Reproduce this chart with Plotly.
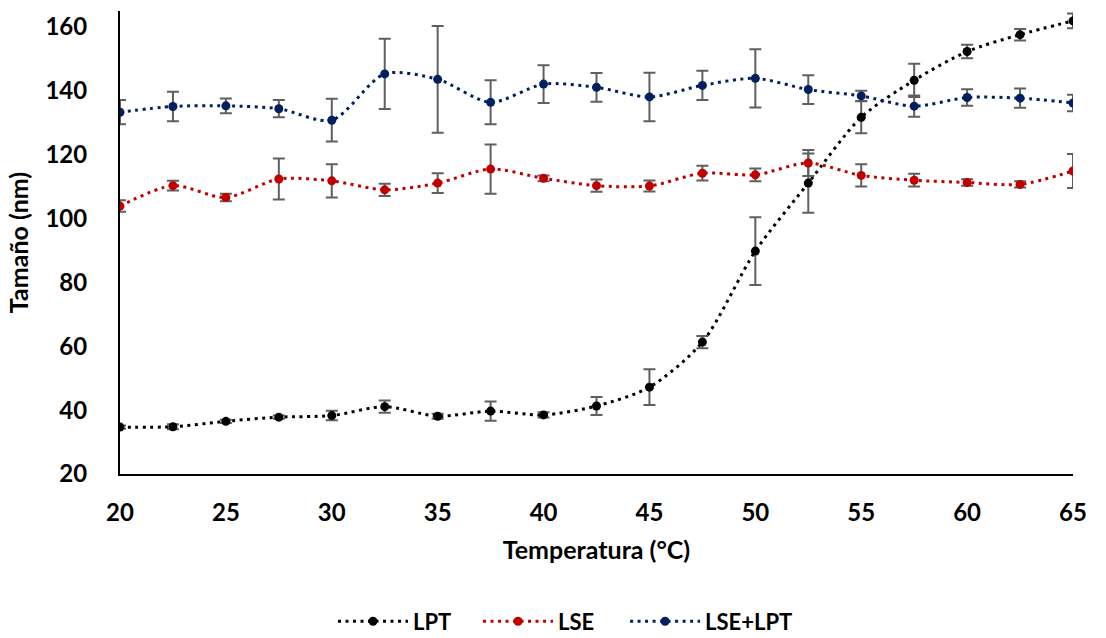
import plotly.graph_objects as go

# Temperature steps (°C)
temperatura = [20, 22.5, 25, 27.5, 30, 32.5, 35, 37.5, 40, 42.5, 45,
               47.5, 50, 52.5, 55, 57.5, 60, 62.5, 65]

# Mean size (nm) and standard deviation for each formulation
lpt = [34.7, 34.8, 36.5, 37.8, 38.3, 41.1, 38.1, 39.7, 38.5, 41.3, 47.2,
       61.3, 89.8, 111.1, 131.7, 143.3, 152.3, 157.6, 161.9]
lpt_err = [0.5, 0.8, 0.5, 0.5, 1.5, 1.9, 0.8, 3.0, 0.8, 2.8, 5.6,
           1.9, 10.6, 9.3, 5.0, 5.2, 2.1, 1.8, 2.3]

lse = [103.9, 110.3, 106.6, 112.4, 111.8, 109.0, 111.1, 115.5, 112.6, 110.3, 110.2,
       114.2, 113.7, 117.4, 113.5, 112.0, 111.3, 110.7, 114.9]
lse_err = [1.8, 1.5, 1.2, 6.4, 5.2, 1.9, 3.1, 7.7, 0.9, 1.9, 1.7,
           2.3, 2.0, 4.1, 3.5, 2.0, 1.0, 1.0, 5.3]

lse_lpt = [133.3, 135.1, 135.3, 134.4, 130.8, 145.3, 143.6, 136.4, 142.1, 141.1, 138.1,
           141.7, 143.9, 140.4, 138.4, 135.2, 137.9, 137.7, 136.2]
lse_lpt_err = [3.8, 4.6, 2.3, 2.7, 6.7, 11.0, 16.7, 6.9, 5.9, 4.5, 7.6,
               4.6, 9.1, 4.5, 1.6, 3.3, 2.6, 3.0, 2.6]

x_ticks = [20, 25, 30, 35, 40, 45, 50, 55, 60, 65]
y_ticks = [20, 40, 60, 80, 100, 120, 140, 160]

series = [
    ("LPT", lpt, lpt_err, "#000000", "legend"),
    ("LSE", lse, lse_err, "#c00000", "legend2"),
    ("LSE+LPT", lse_lpt, lse_lpt_err, "#002060", "legend3"),
]

FONT = "Lato"

fig = go.Figure()
for name, vals, errs, color, leg in series:
    fig.add_trace(go.Scatter(
        x=temperatura, y=vals, name=name, legend=leg,
        mode="lines+markers",
        line=dict(color=color, width=3, dash="3px,4.5px", shape="spline", smoothing=0.8),
        marker=dict(color=color, size=9),
        error_y=dict(type="data", array=errs, visible=True,
                     color="#5f5f5f", thickness=2, width=6),
    ))


def legend_at(x_left):
    # one single-entry legend per series, placed side by side under the axis title
    return dict(orientation="h", x=x_left, xanchor="left",
                yref="container", y=0.026, yanchor="middle",
                font=dict(family=FONT, size=22, weight=700), itemwidth=70)


fig.update_layout(
    width=1106, height=638,
    margin=dict(l=120, r=33, t=11, b=164),
    paper_bgcolor="white", plot_bgcolor="white",
    font=dict(family=FONT, size=24, color="#000000", weight=700),
    showlegend=True,
    legend=legend_at(0.2235),
    legend2=legend_at(0.3757),
    legend3=legend_at(0.530),
    xaxis=dict(
        range=[20, 65], tickvals=x_ticks,
        showgrid=False, zeroline=False, showline=True, linecolor="#000000", linewidth=2,
        ticks="", ticklabelstandoff=16, automargin=False,
        tickfont=dict(family=FONT, size=24, weight=700),
        title=dict(text="Temperatura (°C)", standoff=17,
                   font=dict(family=FONT, size=25, weight=700)),
    ),
    yaxis=dict(
        range=[20, 165], tickvals=y_ticks,
        showgrid=False, zeroline=False, showline=True, linecolor="#000000", linewidth=2,
        ticks="", ticklabelstandoff=26, automargin=False,
        tickfont=dict(family=FONT, size=24, weight=700),
        title=dict(text="Tamaño (nm)", standoff=10,
                   font=dict(family=FONT, size=25, weight=700)),
    ),
)

fig.write_html("out.html")
